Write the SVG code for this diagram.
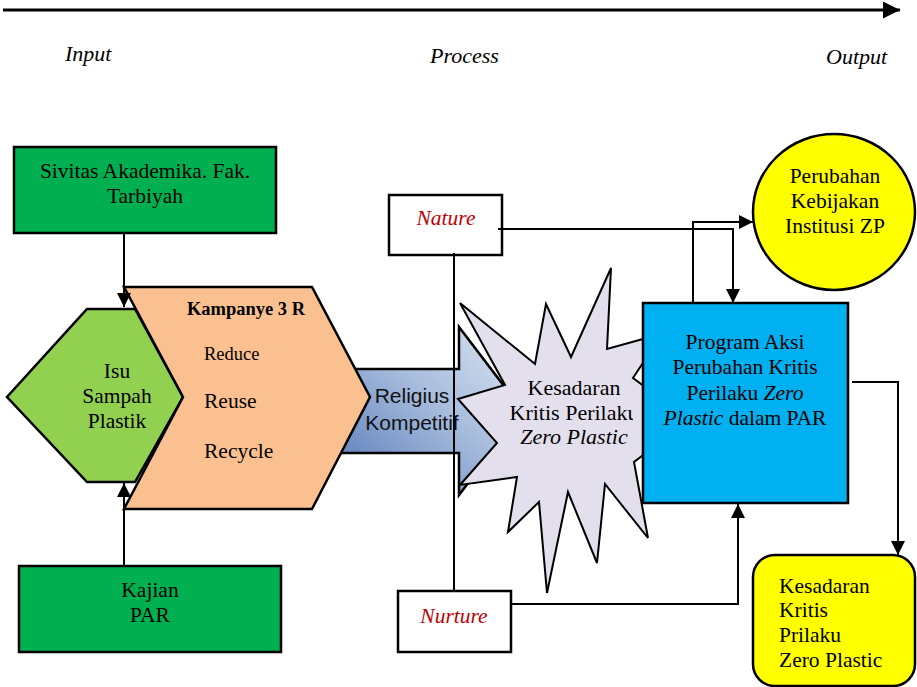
<svg xmlns="http://www.w3.org/2000/svg" width="917" height="687" viewBox="0 0 917 687">
<defs>
<style>
.t{font-family:"Liberation Serif","Times New Roman",serif;font-size:21.5px;fill:#000;text-anchor:middle}
.it{font-style:italic}
.lbl{font-family:"Liberation Serif","Times New Roman",serif;font-size:22px;font-style:italic;fill:#000}
.red{fill:#C00000}
.sans{font-family:"Liberation Sans",Arial,sans-serif;font-size:21px;fill:#111;text-anchor:middle}
.box{stroke:#000;stroke-width:2.5}
.con{fill:none;stroke:#000;stroke-width:2}
</style>
<marker id="ah" viewBox="0 0 10 10" refX="10" refY="5" markerWidth="14" markerHeight="14" markerUnits="userSpaceOnUse" orient="auto">
<path d="M0,0 L10,5 L0,10 z" fill="#000"/>
</marker>
<marker id="ah2" viewBox="0 0 10 10" refX="10" refY="5" markerWidth="17" markerHeight="17" markerUnits="userSpaceOnUse" orient="auto">
<path d="M0,0 L10,5 L0,10 z" fill="#000"/>
</marker>
<linearGradient id="bg" x1="0" y1="1" x2="1" y2="0">
<stop offset="0" stop-color="#5478B8"/>
<stop offset="0.55" stop-color="#A9BEDD"/>
<stop offset="1" stop-color="#DCE6F2"/>
</linearGradient>
<clipPath id="clipK"><rect x="440" y="300" width="193" height="200"/></clipPath>
</defs>
<rect width="917" height="687" fill="#fff"/>

<g id="timeline">
<line x1="3" y1="10" x2="900" y2="10" stroke="#000" stroke-width="3" marker-end="url(#ah2)"/>
<text class="lbl" x="65" y="61">Input</text>
<text class="lbl" x="430" y="63">Process</text>
<text class="lbl" x="826" y="64">Output</text>
</g>

<g id="religius">
<polygon points="340,369 459,369 459,327 523,411 459,495 459,453 340,453" fill="url(#bg)" class="box" stroke-width="2"/>
<text class="sans" x="412" y="403">Religius</text>
<text class="sans" x="412" y="430">Kompetitif</text>
</g>

<g id="isu">
<polygon points="87,309 135,309 183,397 135,482 87,482 7,397" fill="#92D050" class="box" stroke-width="2"/>
<text class="t" x="117" y="378">Isu</text>
<text class="t" x="117" y="403">Sampah</text>
<text class="t" x="117" y="428">Plastik</text>
</g>

<g id="kampanye">
<polygon points="124,287 312,287 370,397 312,509 124,509 183,397" fill="#FAC090" class="box" stroke-width="2"/>
<text class="t" x="246" y="315" style="font-weight:bold;font-size:18.5px">Kampanye 3 R</text>
<text class="t" x="204" y="360" style="text-anchor:start;font-size:18.5px">Reduce</text>
<text class="t" x="204" y="408" style="text-anchor:start">Reuse</text>
<text class="t" x="204" y="458" style="text-anchor:start">Recycle</text>
</g>

<g id="sivitas">
<rect x="14" y="147" width="262" height="86" fill="#00B050" class="box"/>
<text class="t" x="145" y="178">Sivitas Akademika. Fak.</text>
<text class="t" x="145" y="203">Tarbiyah</text>
</g>

<g id="kajian">
<rect x="19" y="566" width="262" height="86" fill="#00B050" class="box"/>
<text class="t" x="150" y="597">Kajian</text>
<text class="t" x="150" y="622">PAR</text>
</g>

<g id="kesadaran-star">
<polygon points="458,399 505,385 460,303 535,364 546,304 571,357 611,268 607,349 643,339 662,334 633,378 690,420 634,462 648,538 605,484 597,563 568,492 547,593 539,502 508,532 517,477 460,485 497,443" fill="#E4DFEC" stroke="#000" stroke-width="2" stroke-linejoin="miter"/>
<text class="t" x="574" y="395" style="font-size:22px">Kesadaran</text>
<text class="t" x="574" y="420" style="font-size:22px" clip-path="url(#clipK)">Kritis Perilaku</text>
<text class="t it" x="574" y="444" style="font-size:22px">Zero Plastic</text>
</g>

<g id="program">
<rect x="643" y="303" width="205" height="200" fill="#00B0F0" class="box"/>
<text class="t" x="745" y="349">Program Aksi</text>
<text class="t" x="745" y="374">Perubahan Kritis</text>
<text class="t" x="745" y="400">Perilaku <tspan class="it">Zero</tspan></text>
<text class="t" x="745" y="425"><tspan class="it">Plastic</tspan> dalam PAR</text>
</g>

<g id="kebijakan">
<ellipse cx="834" cy="212" rx="81" ry="78" fill="#FFFF00" class="box" stroke-width="2"/>
<text class="t" x="835" y="183">Perubahan</text>
<text class="t" x="835" y="208">Kebijakan</text>
<text class="t" x="835" y="233">Institusi ZP</text>
</g>

<g id="kesadaran-output">
<rect x="753" y="555" width="162" height="131" rx="22" ry="22" fill="#FFFF00" class="box" stroke-width="2"/>
<text class="t" x="779" y="593" style="text-anchor:start">Kesadaran</text>
<text class="t" x="779" y="617" style="text-anchor:start">Kritis</text>
<text class="t" x="779" y="642" style="text-anchor:start">Prilaku</text>
<text class="t" x="779" y="667" style="text-anchor:start">Zero Plastic</text>
</g>

<g id="nature">
<rect x="389" y="195" width="113" height="60" fill="#fff" class="box" stroke-width="2"/>
<text class="t it red" x="446" y="225">Nature</text>
</g>

<g id="nurture">
<rect x="398" y="591" width="113" height="61" fill="#fff" class="box" stroke-width="2"/>
<text class="t it red" x="454" y="623">Nurture</text>
</g>

<g id="connectors">
<path class="con" d="M124,233 V307" marker-end="url(#ah)"/>
<path class="con" d="M124,566 V483" marker-end="url(#ah)"/>
<path class="con" d="M498,229 H733 V303" marker-end="url(#ah)"/>
<path class="con" d="M693,303 V222 H753" marker-end="url(#ah)"/>
<path class="con" d="M454,253 V592"/>
<path class="con" d="M511,604 H738 V504" marker-end="url(#ah)"/>
<path class="con" d="M852,382 H898 V555" marker-end="url(#ah)"/>
</g>
</svg>
